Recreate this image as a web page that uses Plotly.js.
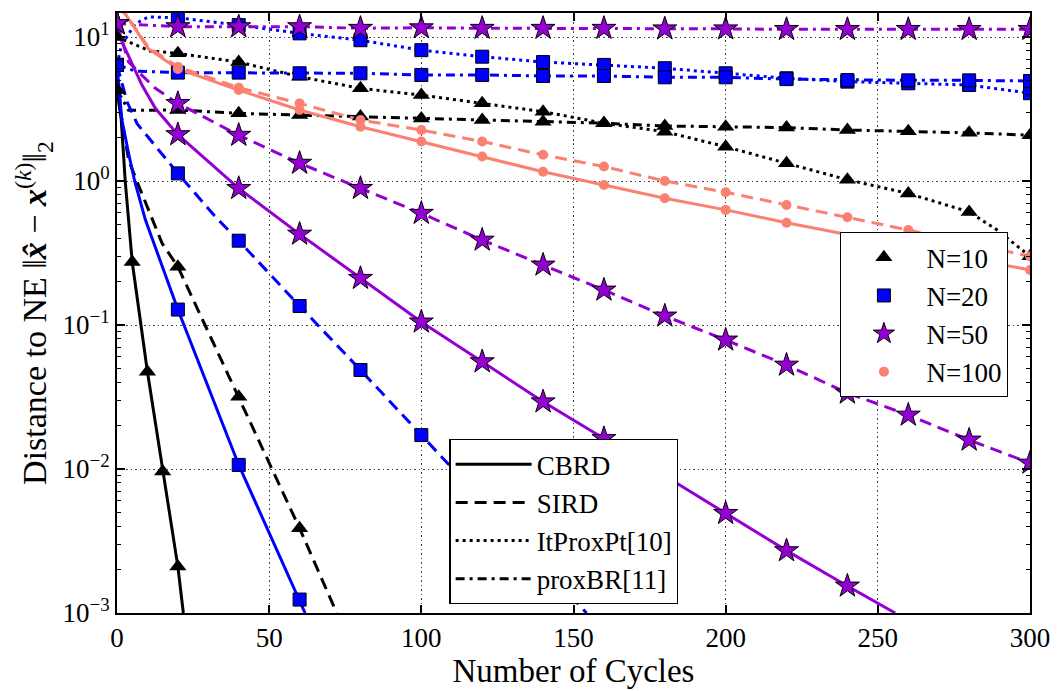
<!DOCTYPE html>
<html><head><meta charset="utf-8">
<script src="https://cdn.plot.ly/plotly-3.0.1.min.js"></script>
<style>html,body{margin:0;padding:0;background:#fff}#chart{width:1058px;height:691px}</style>
</head><body><div id="chart"></div>
<script>
// ---------- data ----------
const n10_cbrd_x = [0, 1.4, 2.7, 5, 10, 15, 20, 21.8];
const n10_cbrd_y = [4.3, 2.66, 1.0, 0.274, 0.0474, 0.0096, 0.0021, 0.001];
const n10_sird_x = [0, 3.8, 7.1, 9.9, 14.8, 20, 40, 60, 72.2];
const n10_sird_y = [4.3, 1.4, 0.93, 0.66, 0.37, 0.254, 0.0318, 0.00387, 0.001];
const n10_itpp_x = [0, 10.8, 20, 40, 60, 80, 100, 120, 140, 160, 180, 200, 220, 240, 260, 280, 289, 300];
const n10_itpp_y = [10, 8.0, 7.7, 6.7, 5.3, 4.4, 3.95, 3.47, 3.03, 2.52, 2.2, 1.73, 1.33, 1.02, 0.82, 0.61, 0.46, 0.30];
const n10_pbr_x = [0, 3.8, 20, 40, 60, 80, 100, 120, 140, 160, 180, 200, 220, 240, 260, 280, 300];
const n10_pbr_y = [4.3, 3.1, 3.11, 2.95, 2.87, 2.8, 2.72, 2.65, 2.58, 2.52, 2.41, 2.38, 2.35, 2.26, 2.22, 2.16, 2.08];

const n20_cbrd_x = [0, 1.6, 3.8, 5.8, 9.3, 13.7, 20, 40, 60, 61.8];
const n20_cbrd_y = [6.4, 2.66, 1.56, 1.0, 0.54, 0.30, 0.128, 0.01067, 0.00124, 0.001];
const n20_sird_x = [0, 3.3, 6.6, 14.8, 20, 32.3, 40, 60, 80, 100, 154.3];
const n20_sird_y = [6.4, 3.55, 2.5, 1.55, 1.13, 0.565, 0.385, 0.1355, 0.0487, 0.0172, 0.001];
const n20_itpp_x = [0, 1.5, 5.9, 10.3, 20, 40, 60, 80, 100, 120, 140, 160, 180, 200, 220, 240, 260, 280, 300];
const n20_itpp_y = [6.4, 8.8, 12.3, 13.8, 13.6, 12.1, 10.6, 9.5, 8.1, 7.3, 6.7, 6.4, 6.07, 5.6, 5.17, 4.9, 4.77, 4.64, 4.07];
const n20_pbr_x = [0, 6, 20, 40, 60, 80, 100, 120, 140, 160, 180, 200, 220, 240, 260, 280, 300];
const n20_pbr_y = [6.4, 5.8, 5.66, 5.66, 5.6, 5.6, 5.45, 5.45, 5.36, 5.36, 5.25, 5.25, 5.1, 5.02, 5.0, 5.0, 4.95];

const n50_cbrd_x = [0, 1.6, 8.2, 12.6, 20, 40, 60, 80, 100, 120, 140, 160, 200, 220, 240, 255.7];
const n50_cbrd_y = [12.4, 9.3, 4.64, 3.2, 2.1, 0.889, 0.428, 0.211, 0.105, 0.0556, 0.0293, 0.0163, 0.00492, 0.00271, 0.00154, 0.001];
const n50_sird_x = [0, 3.8, 12.6, 20, 40, 60, 80, 100, 120, 140, 160, 180, 200, 220, 240, 260, 280, 300];
const n50_sird_y = [12.4, 6.7, 4.4, 3.46, 2.08, 1.33, 0.889, 0.597, 0.389, 0.261, 0.175, 0.1155, 0.0787, 0.0527, 0.0337, 0.0237, 0.0159, 0.0110];
const n50_pbr_x = [0, 20, 40, 60, 80, 100, 120, 140, 160, 180, 200, 220, 240, 260, 280, 300];
const n50_pbr_y = [12.4, 11.8, 11.8, 11.8, 11.5, 11.6, 11.5, 11.5, 11.5, 11.4, 11.4, 11.3, 11.3, 11.3, 11.3, 11.3];

const n100_cbrd_x = [0, 2.6, 10.3, 20, 40, 60, 80, 100, 120, 140, 160, 180, 200, 220, 300];
const n100_cbrd_y = [16, 14.6, 8.3, 6.0, 4.28, 3.11, 2.38, 1.88, 1.48, 1.16, 0.937, 0.759, 0.63, 0.513, 0.241];
const n100_sird_x = [0, 2.6, 10.3, 20, 40, 60, 80, 100, 120, 140, 160, 180, 200, 220, 240, 260, 300];
const n100_sird_y = [16, 14.6, 8.5, 6.2, 4.45, 3.46, 2.65, 2.26, 1.88, 1.52, 1.26, 1.0, 0.835, 0.681, 0.56, 0.457, 0.30];

const sizeLabels = ['N=10', 'N=20', 'N=50', 'N=100'];
const methodLabels = ['CBRD', 'SIRD', 'ItProxPt[10]', 'proxBR[11]'];
const xTickVals = [0, 50, 100, 150, 200, 250, 300];
const yTickVals = [0.001, 0.01, 0.1, 1, 10];
const yTickText = ['10<sup>−3</sup>', '10<sup>−2</sup>', '10<sup>−1</sup>', '10<sup>0</sup>', '10<sup>1</sup>'];

// ---------- styles ----------
const sizeColors = ['#000000', '#0000ff', '#9400d3', '#fa8072'];
const sizeSymbols = ['triangle-up', 'square', 'star', 'circle'];
const sizeMarkerSizes = [15, 13, 18, 10];
const sizeOutline = [0, 1, 1, 0];
const methodDash = ['solid', '12px,7px', '3px,4px', '9px,5px,3px,5px'];

const series = [
  {x: n10_cbrd_x, y: n10_cbrd_y, n: 0, m: 0, step: 5},
  {x: n10_sird_x, y: n10_sird_y, n: 0, m: 1, step: 20},
  {x: n10_itpp_x, y: n10_itpp_y, n: 0, m: 2, step: 20},
  {x: n10_pbr_x, y: n10_pbr_y, n: 0, m: 3, step: 20},
  {x: n20_cbrd_x, y: n20_cbrd_y, n: 1, m: 0, step: 20},
  {x: n20_sird_x, y: n20_sird_y, n: 1, m: 1, step: 20},
  {x: n20_itpp_x, y: n20_itpp_y, n: 1, m: 2, step: 20},
  {x: n20_pbr_x, y: n20_pbr_y, n: 1, m: 3, step: 20},
  {x: n50_cbrd_x, y: n50_cbrd_y, n: 2, m: 0, step: 20},
  {x: n50_sird_x, y: n50_sird_y, n: 2, m: 1, step: 20},
  {x: n50_pbr_x, y: n50_pbr_y, n: 2, m: 3, step: 20},
  {x: n100_cbrd_x, y: n100_cbrd_y, n: 3, m: 0, step: 20},
  {x: n100_sird_x, y: n100_sird_y, n: 3, m: 1, step: 20}
];

function markerStyle(n) {
  return {symbol: sizeSymbols[n], size: sizeMarkerSizes[n], color: sizeColors[n],
          line: {color: '#000', width: sizeOutline[n]}};
}

const lineTraces = [], markerTraces = [];
series.forEach(s => {
  lineTraces.push({x: s.x, y: s.y, mode: 'lines', showlegend: false, hoverinfo: 'skip',
    line: {color: sizeColors[s.n], width: 3, dash: methodDash[s.m]}});
  const mx = [], my = [];
  s.x.forEach((v, i) => { if (Math.abs(v / s.step - Math.round(v / s.step)) < 1e-9) { mx.push(v); my.push(s.y[i]); } });
  markerTraces.push({x: mx, y: my, mode: 'markers', showlegend: false, hoverinfo: 'skip', marker: markerStyle(s.n)});
});

const legendTraces = [];
sizeLabels.forEach((lab, n) => legendTraces.push({x: [null], y: [null], mode: 'markers', name: lab,
  legend: 'legend', marker: markerStyle(n)}));
methodLabels.forEach((lab, m) => legendTraces.push({x: [null], y: [null], mode: 'lines', name: lab,
  legend: 'legend2', line: {color: '#000', width: 3, dash: methodDash[m]}}));

const axisCommon = {
  ticks: 'inside', ticklen: 8, tickwidth: 2, tickcolor: '#000',
  showline: true, linecolor: '#000', linewidth: 2, mirror: 'ticks',
  showgrid: true, gridcolor: '#444', griddash: '1.5px,3px', gridwidth: 1,
  zeroline: false, tickfont: {size: 27}
};

const layout = {
  width: 1058, height: 691,
  margin: {l: 117, r: 28, t: 13, b: 78},
  paper_bgcolor: '#fff', plot_bgcolor: '#fff',
  font: {family: '"Liberation Serif", "DejaVu Serif", serif', size: 27, color: '#000'},
  xaxis: Object.assign({}, axisCommon, {
    range: [0, 300], tickvals: xTickVals,
    title: {text: 'Number of Cycles', font: {size: 33}, standoff: 4}
  }),
  yaxis: Object.assign({}, axisCommon, {
    type: 'log', range: [-3, 1.1667], tickvals: yTickVals, ticktext: yTickText,
    minor: {ticks: 'inside', ticklen: 4, tickwidth: 1, tickcolor: '#000', dtick: 'D1', showgrid: false},
    title: {text: 'Distance to NE ‖<b><i>x̂</i></b> − <b><i>x</i></b><sup>(<i>k</i>)</sup>‖<sub>2</sub>', font: {size: 34}, standoff: 6}
  }),
  legend: {x: 0.792, y: 0.635, xanchor: 'left', yanchor: 'top', bgcolor: '#fff',
    bordercolor: '#000', borderwidth: 1.3, font: {size: 27}, itemwidth: 75},
  legend2: {x: 0.364, y: 0.29, xanchor: 'left', yanchor: 'top', bgcolor: '#fff',
    bordercolor: '#000', borderwidth: 1.3, font: {size: 27}, itemwidth: 76}
};

Plotly.newPlot('chart', lineTraces.concat(markerTraces, legendTraces), layout, {displayModeBar: false, staticPlot: true});
</script>
</body></html>
